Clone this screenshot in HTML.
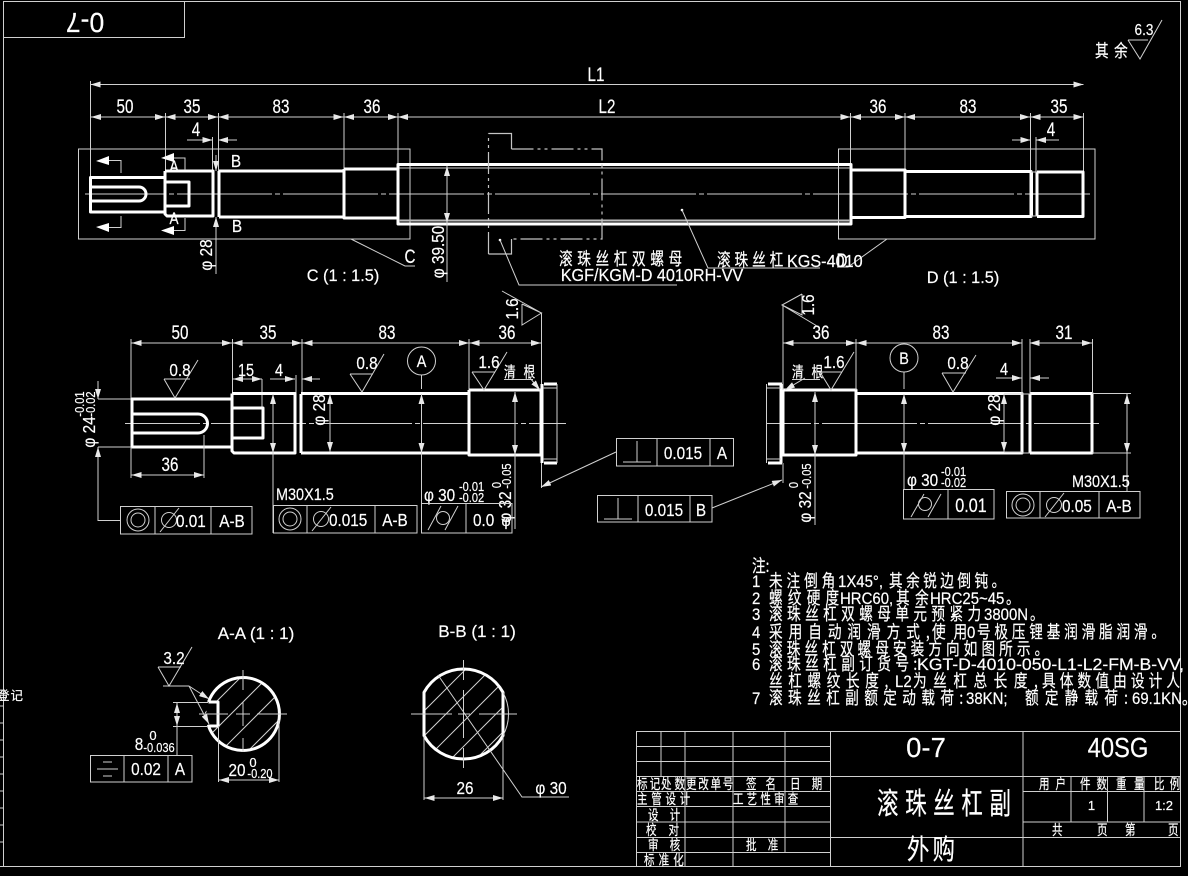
<!DOCTYPE html>
<html><head><meta charset="utf-8"><style>
html,body{margin:0;padding:0;background:#000}
svg{display:block}
text{fill:#fff;stroke:#fff;stroke-width:.2;font-family:"Liberation Sans","Noto Sans CJK SC",sans-serif;font-size:19px}
.m{text-anchor:middle}
.s{font-size:13px}
.n{font-size:17.5px;font-family:"Noto Sans CJK SC","Liberation Sans",sans-serif}
.k{font-size:14px;font-family:"Noto Sans CJK SC",sans-serif}
.l{fill:none;stroke:#d0d0d0;stroke-width:1}
.d{fill:none;stroke:#d0d0d0;stroke-width:1;marker-start:url(#a);marker-end:url(#a)}
.e{fill:none;stroke:#d0d0d0;stroke-width:1;marker-end:url(#a)}
.b{fill:none;stroke:#fff;stroke-width:3;stroke-linejoin:round}
.c{fill:none;stroke:#d0d0d0;stroke-width:1;stroke-dasharray:95 3 5 3}
.nut{fill:none;stroke:#c4c4c4;stroke-width:1.2;stroke-dasharray:22 4 3 4 3 4}
</style></head><body>
<svg width="1188" height="876" viewBox="0 0 1188 876" xmlns="http://www.w3.org/2000/svg">
<defs>
<marker id="a" markerUnits="userSpaceOnUse" markerWidth="10" markerHeight="6" refX="10" refY="3" orient="auto-start-reverse"><path d="M0 0L10 3L0 6Z" fill="#e8e8e8"/></marker>
<clipPath id="ca"><path clip-rule="evenodd" d="M206.5 714A36.5 36.5 0 1 1 279.5 714A36.5 36.5 0 1 1 206.5 714ZM205 702H218V726H205Z"/></clipPath>
<clipPath id="cb"><path d="M424 692.4A45 45 0 0 1 503 692.4V735.6A45 45 0 0 1 424 735.6Z"/></clipPath>
</defs>
<rect width="1188" height="876" fill="#000"/>

<!-- frame -->
<path class="l" d="M3 1.5H1180.500M3.5 1V867M0 866.5H1180M1180.500 1V867M637 731.5H1180"/>
<path class="l" d="M3 37.5H184.5V1"/>
<path class="l" d="M0 706H3M0 723H3M0 740H3M0 757H3M0 774H3M0 791H3M0 808H3M0 825H3M0 842H3"/>
<text class="k" x="-3" y="700" textLength="26" lengthAdjust="spacing" style="font-size:12.5px">登记</text>
<text class="m" style="font-size:28px" transform="translate(85 13) rotate(180) scale(.95 1)">0-7</text>

<!-- top right roughness -->
<path class="l" d="M1128 40H1148M1128 40L1140 59L1162 20"/>
<text class="m" style="font-size:16px" transform="translate(1144 35) scale(.85 1)">6.3</text>
<text class="n" transform="translate(1095 57) scale(.78 1)" textLength="42" lengthAdjust="spacing">其余</text>

<!-- top view dimensions -->
<path class="e" d="M130 84.5H90.5"/><path class="e" d="M1040 84.5H1083.5"/>
<path class="l" d="M130 84.5H1040"/>
<path class="l" d="M90.5 81V178M165.5 113V172M218.5 113V172M344 113V170M398 113V165M850.5 113V165M905 113V170M1030.5 113V172M1083.5 113V172M212.5 137V172M1036 137V172"/>
<text class="m" transform="translate(596 81) scale(.8 1)">L1</text>
<path class="d" d="M91 117H165"/><path class="d" d="M165.5 117H218"/><path class="d" d="M218.5 117H343.5"/><path class="d" d="M344 117H398"/><path class="d" d="M398 117H850.5"/><path class="d" d="M851 117H905"/><path class="d" d="M905 117H1030"/><path class="d" d="M1030.5 117H1083.5"/>
<text class="m" transform="translate(125 113) scale(.8 1)">50</text>
<text class="m" transform="translate(192 113) scale(.8 1)">35</text>
<text class="m" transform="translate(281 113) scale(.8 1)">83</text>
<text class="m" transform="translate(372 113) scale(.8 1)">36</text>
<text class="m" transform="translate(607 113) scale(.8 1)">L2</text>
<text class="m" transform="translate(878 113) scale(.8 1)">36</text>
<text class="m" transform="translate(968 113) scale(.8 1)">83</text>
<text class="m" transform="translate(1059 113) scale(.8 1)">35</text>
<path class="e" d="M187 140H212.5"/><path class="e" d="M237 140H218"/><path class="e" d="M1012 140H1030.5"/><path class="e" d="M1059 140H1036"/>
<text class="m" transform="translate(196 136) scale(.8 1)">4</text>
<text class="m" transform="translate(1051 136) scale(.8 1)">4</text>

<!-- detail boxes -->
<path class="l" d="M78.5 149H410V239H78.5Z"/>
<path class="l" d="M838.5 149H1095V239H838.5Z"/>
<path class="l" d="M351 239L405 266H415"/>
<path class="l" d="M887 239L848 267H837"/>
<text class="m" transform="translate(410 263) scale(.8 1)">C</text>
<text class="m" transform="translate(842 267) scale(.8 1)">D</text>
<text class="m" style="font-size:17px" transform="translate(343 281) scale(.96 1)">C (1 : 1.5)</text>
<text class="m" style="font-size:17px" transform="translate(963 283) scale(.96 1)">D (1 : 1.5)</text>

<!-- top shaft -->
<path class="c" stroke-dashoffset="14" d="M85 194H1090"/>
<path class="b" d="M90.5 177.5H165V212H90.5Z"/>
<path class="b" d="M91 187H139A7 7 0 0 1 139 201H91"/>
<path class="b" d="M165 171H213V216H167L165 214V171"/>
<path class="b" d="M165 182H189V206H165"/>
<path class="b" d="M213 171V216M219 171V217M219 171H344V217H219"/>
<path class="b" d="M344 169H398V218H344V169"/>
<path class="b" d="M398 164.500H851V224H398Z"/>
<path class="l" d="M399 168H850"/><path d="M399 220.500H850" fill="none" stroke="#bbb" stroke-width="2"/>
<path class="b" d="M851 170H905V217.500H851"/>
<path class="b" d="M905 171.500H1031V216.500H905"/>
<path class="b" d="M1031.500 172V216.500M1037 172V216.500M1037 172H1083V216.500H1037"/>
<path class="l" d="M1031 172H1037M1031 216H1037"/>

<!-- nut -->
<path class="nut" d="M511.500 149H602V239H511.500"/>
<path class="nut" d="M488.500 254V133.500"/>
<path d="M488.500 133.500H511.500V149M511.500 239V254H488.500" fill="none" stroke="#c4c4c4" stroke-width="1.200"/>
<circle cx="500" cy="240" r="1.300" fill="#fff"/><circle cx="682" cy="210" r="1.300" fill="#fff"/>
<path class="l" d="M500 240L519 285H677M682 210L708 268H820"/>
<text class="n" transform="translate(559 265) scale(.78 1)" textLength="158" lengthAdjust="spacing">滚珠丝杠双螺母</text>
<text class="m" style="font-size:18px" transform="translate(652 281) scale(.9 1)">KGF/KGM-D 4010RH-VV</text>
<text class="n" transform="translate(717 266) scale(.78 1)" textLength="85" lengthAdjust="spacing">滚珠丝杠</text>
<text transform="translate(787 267) scale(.9 1)" style="font-size:18px">KGS-4010</text>

<!-- section arrows top -->
<path class="l" d="M108 160.500H121V173M121 216V227.500H108M170 158H185V170M185 218V230.500H170"/>
<path d="M96 161L109 156V165ZM96 227L109 223V232ZM161 158L174 153V162ZM161 230.500L174 226V235Z" fill="#fff"/>
<text class="m" transform="translate(174 172) scale(.8 1)" style="font-size:17px">A</text>
<text class="m" transform="translate(174 224) scale(.8 1)" style="font-size:17px">A</text>
<text class="m" transform="translate(236 167) scale(.85 1)" style="font-size:18px">B</text>
<text class="m" transform="translate(237 232) scale(.85 1)" style="font-size:18px">B</text>
<path class="e" d="M216 155V171"/><path class="e" d="M216 274V217"/>
<text class="m" transform="translate(212 255) rotate(-90) scale(.85 1)" style="font-size:18px">φ 28</text>
<path class="d" d="M447 166V223"/><path class="l" d="M447 223V282"/>
<text class="m" transform="translate(444 252) rotate(-90) scale(.85 1)" style="font-size:18px">φ 39.50</text>

<!-- left lower view -->
<path class="l" d="M131 339V399M232.500 339V394M302 339V393M469 339V390M541.500 313V390M541.500 463V488"/>
<path class="d" d="M131.500 343H232"/><path class="d" d="M232.500 343H302"/><path class="d" d="M302.500 343H469"/><path class="d" d="M469.500 343H541"/>
<text class="m" transform="translate(180 339) scale(.8 1)">50</text>
<text class="m" transform="translate(268 339) scale(.8 1)">35</text>
<text class="m" transform="translate(387 339) scale(.8 1)">83</text>
<text class="m" transform="translate(507 339) scale(.8 1)">36</text>
<path class="d" d="M233 379H262"/><path class="l" d="M262 379V408M296 375V394M302 375V393"/>
<text class="m" transform="translate(246 376) scale(.8 1)" style="font-size:18px">15</text>
<path class="e" d="M270 379H295"/><path class="e" d="M320 379H302"/>
<text class="m" transform="translate(279 376) scale(.8 1)" style="font-size:18px">4</text>

<path class="c" stroke-dashoffset="20" d="M125 423.500H566"/>
<path class="b" d="M232 399H132V447H232"/>
<path class="b" d="M133 414H198A9 9 0 0 1 198 433H133"/>
<path class="b" d="M232 393.500H295V453H234L232 451V393.500"/>
<path class="b" d="M232 408H263V438H232"/>
<path class="b" d="M295 394V453M301 394V453M301 393.500H469V453H301"/>
<path class="b" d="M469 390H541V455H469V390"/>
<path class="b" d="M544 384H557M544 463H557M542 384V463"/>
<path class="l" d="M557 384V463M543 388H557M543 459H557"/>

<!-- rough left -->
<path class="l" d="M164 379H190M164 379L175 398L198 360"/>
<text class="m" transform="translate(180 376) scale(.85 1)" style="font-size:18px">0.8</text>
<path class="l" d="M350 374H373M350 374L362 392L384 354"/>
<text class="m" transform="translate(367 369) scale(.85 1)" style="font-size:18px">0.8</text>
<path class="l" d="M472 372H495M472 372L484 390L507 352"/>
<text class="m" transform="translate(489 368) scale(.85 1)" style="font-size:18px">1.6</text>
<text class="n" transform="translate(504 377) scale(.78 1)" textLength="40" lengthAdjust="spacing" style="font-size:15px">清根</text>
<path class="l" d="M504 379.500H533"/><path class="e" d="M530 378L540 390"/>
<path class="l" d="M522 304V325L541.500 313L522 304M502 291L541.500 313"/>
<text class="m" transform="translate(518 309) rotate(-90) scale(.85 1)" style="font-size:18px">1.6</text>

<!-- diam dims left -->
<path class="l" d="M98 399H131M98 447H131"/>
<path class="e" d="M98 381V399"/><path class="e" d="M98 465V447"/>
<path class="l" d="M98 465V520.500H120"/>
<text class="m" transform="translate(95 432) rotate(-90) scale(.85 1)" style="font-size:18px">φ 24</text>
<text class="m s" transform="translate(84 404) rotate(-90) scale(.85 1)">-0.01</text>
<text class="m s" transform="translate(95 404) rotate(-90) scale(.85 1)">-0.02</text>
<path class="l" d="M131 447V478M204 435V478"/>
<path class="d" d="M131.500 475H204"/>
<text class="m" transform="translate(170 471) scale(.8 1)">36</text>

<path class="d" d="M273 394V453"/><path class="l" d="M273 453V533"/>
<text transform="translate(276 500) scale(.85 1)" style="font-size:17px">M30X1.5</text>
<path class="d" d="M330 394V452"/>
<text class="m" transform="translate(325 410) rotate(-90) scale(.85 1)" style="font-size:18px">φ 28</text>
<path class="d" d="M421.500 394V453"/><path class="l" d="M421.500 453V503M421.500 375V389"/>
<circle class="l" cx="421.500" cy="361" r="14"/>
<text class="m" transform="translate(421.500 367) scale(.85 1)" style="font-size:17px">A</text>
<text transform="translate(424 501) scale(.85 1)" style="font-size:18px">φ 30</text>
<text class="s" transform="translate(459 491) scale(.85 1)">-0.01</text>
<text class="s" transform="translate(459 502) scale(.85 1)">-0.02</text>
<path class="d" d="M515 392V455"/><path class="l" d="M515 455V529"/>
<text class="m" transform="translate(511 507) rotate(-90) scale(.85 1)" style="font-size:18px">φ 32</text>
<text class="m s" transform="translate(501 485) rotate(-90) scale(.85 1)">0</text>
<text class="m s" transform="translate(511 476) rotate(-90) scale(.85 1)">-0.05</text>

<!-- FCF 1 -->
<path class="l" d="M120.500 506.500H252V534H120.500ZM155 506.500V534M211 506.500V534"/>
<circle class="l" cx="138" cy="520" r="11"/><circle class="l" cx="138" cy="520" r="7"/>
<circle class="l" cx="169" cy="520" r="7.500"/><path class="l" d="M160 532L179 508"/>
<text transform="translate(176 527) scale(.85 1)" style="font-size:18px">0.01</text>
<text class="m" transform="translate(232 527) scale(.85 1)" style="font-size:18px">A-B</text>
<!-- FCF 2 -->
<path class="l" d="M273.500 505.500H417V533H273.500ZM307 505.500V533M375 505.500V533"/>
<circle class="l" cx="290" cy="519" r="11"/><circle class="l" cx="290" cy="519" r="7"/>
<circle class="l" cx="321" cy="519" r="7.500"/><path class="l" d="M312 531L331 507"/>
<text transform="translate(329 526) scale(.85 1)" style="font-size:18px">0.015</text>
<text class="m" transform="translate(395 526) scale(.85 1)" style="font-size:18px">A-B</text>
<!-- FCF 3 -->
<path class="l" d="M421.500 503.500H512V533H421.500ZM466 503.500V533"/>
<circle class="l" cx="443" cy="518" r="6.500"/><path class="l" d="M428 530L441 506M445 530L458 506"/>
<text transform="translate(473 526) scale(.85 1)" style="font-size:18px">0.0</text>
<text class="m s" transform="translate(506 526)" style="font-size:14px">φ</text>
<path class="l" d="M515 512V529"/>

<!-- perp FCFs -->
<path class="l" d="M616.500 438.500H733.500V466H616.500ZM657 438.500V466M710 438.500V466M637 441V462M623 462H651"/>
<text class="m" transform="translate(683 459) scale(.85 1)" style="font-size:18px">0.015</text>
<text class="m" transform="translate(722 459) scale(.85 1)" style="font-size:18px">A</text>
<path class="e" d="M616 452L541 487"/>
<path class="l" d="M597.500 495.500H712V522H597.500ZM638 495.500V522M690 495.500V522M618 498V519M604 519H632"/>
<text class="m" transform="translate(664 516) scale(.85 1)" style="font-size:18px">0.015</text>
<text class="m" transform="translate(701 516) scale(.85 1)" style="font-size:18px">B</text>
<path class="e" d="M712 508L782 480"/>

<!-- right lower view -->
<path class="c" stroke-dashoffset="50" d="M766 423.500H1099"/>
<path class="b" d="M783 390H856V455H783V390"/>
<path class="b" d="M768 384H782M768 463H782M781 384V463"/>
<path class="l" d="M766.500 384V463M767 388H781M767 459H781"/>
<path class="b" d="M856 393.500H1022V453H856M1022 394V453M1030 394V453M1030 393.500H1092V453H1030"/>
<path class="l" d="M1022 394H1030M1022 453H1030"/>
<path class="l" d="M783 305V390M783 463V483M856 339V390M1022 339V394M1030 339V394M1092.500 339V393M1092 393.500H1131M1092 453H1131M1004 452H1022M1004 394H1022"/>
<path class="d" d="M783.500 343H856"/><path class="d" d="M856.500 343H1022"/><path class="d" d="M1029.500 343H1092"/>
<text class="m" transform="translate(821 339) scale(.8 1)">36</text>
<text class="m" transform="translate(941 339) scale(.8 1)">83</text>
<text class="m" transform="translate(1064 339) scale(.8 1)">31</text>
<path class="l" d="M802 294V315L782 305L802 294M782 305L817 326"/>
<text class="m" transform="translate(814 305) rotate(-90) scale(.85 1)" style="font-size:18px">1.6</text>
<text class="n" transform="translate(792 377) scale(.78 1)" textLength="40" lengthAdjust="spacing" style="font-size:15px">清根</text>
<path class="l" d="M792 379.500H820"/><path class="e" d="M805 378L785 390"/>
<path class="l" d="M820 372H842M820 372L831 390L854 352"/>
<text class="m" transform="translate(834 368) scale(.85 1)" style="font-size:18px">1.6</text>
<path class="d" d="M815 392V455"/><path class="l" d="M815 455V525"/>
<text class="m" transform="translate(811 507) rotate(-90) scale(.85 1)" style="font-size:18px">φ 32</text>
<text class="m s" transform="translate(798 485) rotate(-90) scale(.85 1)">0</text>
<text class="m s" transform="translate(811 476) rotate(-90) scale(.85 1)">-0.05</text>
<circle class="l" cx="904" cy="358" r="14"/>
<text class="m" transform="translate(904 364) scale(.85 1)" style="font-size:17px">B</text>
<path class="l" d="M904 372V389M904 453V489"/>
<path class="d" d="M904 394V453"/>
<path class="l" d="M942 373H966M942 373L953 392L976 355"/>
<text class="m" transform="translate(958 369) scale(.85 1)" style="font-size:18px">0.8</text>
<path class="d" d="M1004 394V452"/>
<text class="m" transform="translate(1000 410) rotate(-90) scale(.85 1)" style="font-size:18px">φ 28</text>
<path class="e" d="M996 378H1022"/><path class="e" d="M1049 378H1030"/>
<text class="m" transform="translate(1004 375) scale(.8 1)" style="font-size:18px">4</text>
<path class="d" d="M1127 394V453"/><path class="l" d="M1127 453V491"/>
<text transform="translate(1072 487) scale(.85 1)" style="font-size:17px">M30X1.5</text>
<path class="l" d="M1006.500 491.500H1140V518H1006.500ZM1040 491.500V518M1099 491.500V518"/>
<circle class="l" cx="1023" cy="505" r="11"/><circle class="l" cx="1023" cy="505" r="7"/>
<circle class="l" cx="1054" cy="505" r="7.500"/><path class="l" d="M1045 517L1064 493"/>
<text transform="translate(1062 512) scale(.85 1)" style="font-size:18px">0.05</text>
<text class="m" transform="translate(1119 512) scale(.85 1)" style="font-size:18px">A-B</text>
<path class="l" d="M903.500 489.500H994V519H903.500ZM948 489.500V519"/>
<circle class="l" cx="925" cy="504" r="6.500"/><path class="l" d="M911 517L924 494M928 517L941 494"/>
<text class="m" transform="translate(971 512) scale(.85 1)" style="font-size:19px">0.01</text>
<text transform="translate(907 486) scale(.85 1)" style="font-size:18px">φ 30</text>
<text class="s" transform="translate(941 476) scale(.85 1)">-0.01</text>
<text class="s" transform="translate(941 487) scale(.85 1)">-0.02</text>

<!-- A-A -->
<text class="m" style="font-size:17px" transform="translate(256 639)">A-A (1 : 1)</text>
<g clip-path="url(#ca)"><path class="l" d="M258 660L138 780M285 660L165 780M312 660L192 780M339 660L219 780M366 660L246 780"/></g>
<path class="b" d="M208.500 702A36.500 36.500 0 1 1 208.500 726H218V702H208.500"/>
<path class="l" d="M243 670V690M243 702V726M243 738V752M199 714H228M236 714H250M257 714H287"/>
<path class="l" d="M173 702.500H208M173 726.500H208"/>
<path class="d" d="M177 703V726"/><path class="l" d="M177 726V755"/>
<path class="l" d="M158 667H181M158 667L169 686L192 647M163 686H189"/>
<path class="e" d="M189 686L209 699"/><path class="e" d="M189 686L209 724"/>
<text class="m" transform="translate(174 664) scale(.85 1)" style="font-size:18px">3.2</text>
<text class="m" transform="translate(139 750) scale(.85 1)" style="font-size:18px">8</text>
<text class="m s" transform="translate(153 740)">0</text>
<text class="m s" transform="translate(159 752) scale(.85 1)">-0.036</text>
<path class="l" d="M90.500 755.500H192V782H90.500ZM124 755.500V782M168 755.500V782M103 762H112M97 769H118M103 776H112"/>
<text class="m" transform="translate(146 775) scale(.85 1)" style="font-size:18px">0.02</text>
<text class="m" transform="translate(180 775) scale(.85 1)" style="font-size:18px">A</text>
<path class="l" d="M218.500 726V782M279 720V782"/>
<path class="d" d="M219 780H279"/>
<text class="m" transform="translate(237 776) scale(.85 1)" style="font-size:18px">20</text>
<text class="m s" transform="translate(253 767)">0</text>
<text class="m s" transform="translate(260 778) scale(.85 1)">-0.20</text>

<!-- B-B -->
<text class="m" style="font-size:17px" transform="translate(477 637)">B-B (1 : 1)</text>
<g clip-path="url(#cb)"><path class="l" d="M485 650L355 780M510 650L380 780M535 650L405 780M560 650L430 780M585 650L455 780"/></g>
<path class="b" d="M424 692.400A45 45 0 0 1 503 692.400V735.600A45 45 0 0 1 424 735.600Z"/>
<path class="l" d="M503 692.400A45 45 0 0 1 503 735.600"/>
<path class="l" d="M463.500 660V680M463.500 690V738M463.500 748V768M411 714H452M458 714H470M479 714H517"/>
<path class="l" d="M424 736V800M503 736V800"/>
<path class="d" d="M424.500 798H503"/>
<text class="m" transform="translate(465 794) scale(.85 1)" style="font-size:18px">26</text>
<path class="l" d="M438 675L522 797H569"/>
<text class="m" transform="translate(551 794) scale(.85 1)" style="font-size:18px">φ 30</text>

<!-- Notes -->
<text class="n" transform="translate(752 572) scale(.78 1)">注:</text>
<text transform="translate(752 587) scale(.88 1)" style="font-size:17px">1</text><text class="n" transform="translate(769 587) scale(.78 1)" textLength="85" lengthAdjust="spacing">未注倒角</text><text transform="translate(838 587) scale(.88 1)" style="font-size:17px">1X45°,</text><text class="n" transform="translate(889 587) scale(.78 1)" textLength="149" lengthAdjust="spacing">其余锐边倒钝。</text>
<text transform="translate(752 604) scale(.88 1)" style="font-size:17px">2</text><text class="n" transform="translate(769 604) scale(.78 1)" textLength="90" lengthAdjust="spacing">螺纹硬度</text><text transform="translate(840 604) scale(.88 1)" style="font-size:17px">HRC60,</text><text class="n" transform="translate(896 604) scale(.78 1)" textLength="42" lengthAdjust="spacing">其余</text><text transform="translate(930 604) scale(.88 1)" style="font-size:17px">HRC25~45</text><text class="n" transform="translate(1006 604) scale(.78 1)">。</text>
<text transform="translate(752 620) scale(.88 1)" style="font-size:17px">3</text><text class="n" transform="translate(769 620) scale(.78 1)" textLength="272" lengthAdjust="spacing">滚珠丝杠双螺母单元预紧力</text><text transform="translate(984 620) scale(.88 1)" style="font-size:17px">3800N</text><text class="n" transform="translate(1030 620) scale(.78 1)">。</text>
<text transform="translate(752 638) scale(.88 1)" style="font-size:17px">4</text><text class="n" transform="translate(769 638) scale(.78 1)" textLength="206" lengthAdjust="spacing">采用自动润滑方式,</text><text class="n" transform="translate(932 638) scale(.78 1)" textLength="45" lengthAdjust="spacing">使用</text><text transform="translate(967 638) scale(.88 1)" style="font-size:17px">0</text><text class="n" transform="translate(977 638) scale(.78 1)" textLength="241" lengthAdjust="spacing">号极压锂基润滑脂润滑。</text>
<text transform="translate(752 655) scale(.88 1)" style="font-size:17px">5</text><text class="n" transform="translate(769 655) scale(.78 1)" textLength="358" lengthAdjust="spacing">滚珠丝杠双螺母安装方向如图所示。</text>
<text transform="translate(752 670) scale(.88 1)" style="font-size:17px">6</text><text class="n" transform="translate(769 670) scale(.78 1)" textLength="190" lengthAdjust="spacing">滚珠丝杠副订货号:</text><text x="917" y="670" style="font-size:17px" textLength="267" lengthAdjust="spacingAndGlyphs">KGT-D-4010-050-L1-L2-FM-B-VV,</text>
<text class="n" transform="translate(769 687) scale(.78 1)" textLength="153" lengthAdjust="spacing">丝杠螺纹长度,</text><text transform="translate(895 687) scale(.88 1)" style="font-size:17px">L2</text><text class="n" transform="translate(913 687) scale(.78 1)" textLength="160" lengthAdjust="spacing">为丝杠总长度,</text><text class="n" transform="translate(1042 687) scale(.78 1)" textLength="177" lengthAdjust="spacing">具体数值由设计人</text>
<text transform="translate(752 704) scale(.88 1)" style="font-size:17px">7</text><text class="n" transform="translate(769 704) scale(.78 1)" textLength="249" lengthAdjust="spacing">滚珠丝杠副额定动载荷:</text><text transform="translate(966 704) scale(.88 1)" style="font-size:17px">38KN;</text><text class="n" transform="translate(1025 704) scale(.78 1)" textLength="132" lengthAdjust="spacing">额定静载荷:</text><text transform="translate(1132 704) scale(.88 1)" style="font-size:17px">69.1KN。</text>

<!-- title block -->
<path class="l" d="M636.500 731V867M636 746.500H830M636 761.500H830M636 776.500H1180M636 791.500H830M636 806.500H830M636 822H830M636 837.500H1180M636 852.500H830M661 731V776M685 731V867M733 731V867M785 731V852M830.500 731V867M1023 731V867M1023 791.500H1180M1023 822H1180M1071 776V822M1107.500 776V822M1144 776V822"/>
<text class="k" transform="translate(637 789) scale(.75 1)" textLength="31" lengthAdjust="spacing">标记</text>
<text class="k" transform="translate(661 789) scale(.75 1)" textLength="32" lengthAdjust="spacing">处数</text>
<text class="k" transform="translate(686 789) scale(.75 1)" textLength="63" lengthAdjust="spacing">更改单号</text>
<text class="k" transform="translate(746 789) scale(.75 1)" textLength="40" lengthAdjust="spacing">签名</text>
<text class="k" transform="translate(790 789) scale(.75 1)" textLength="43" lengthAdjust="spacing">日期</text>
<text class="k" transform="translate(637 804) scale(.75 1)" textLength="71" lengthAdjust="spacing">主管设计</text>
<text class="k" transform="translate(733 804) scale(.75 1)" textLength="87" lengthAdjust="spacing">工艺性审查</text>
<text class="k" transform="translate(648 820) scale(.75 1)" textLength="43" lengthAdjust="spacing">设计</text>
<text class="k" transform="translate(646 835) scale(.75 1)" textLength="44" lengthAdjust="spacing">校对</text>
<text class="k" transform="translate(648 850) scale(.75 1)" textLength="43" lengthAdjust="spacing">审核</text>
<text class="k" transform="translate(746 850) scale(.75 1)" textLength="43" lengthAdjust="spacing">批准</text>
<text class="k" transform="translate(644 865) scale(.75 1)" textLength="53" lengthAdjust="spacing">标准化</text>
<text class="m" style="font-size:28px" transform="translate(926 757) scale(.98 1)">0-7</text>
<text class="m" style="font-size:28px" transform="translate(1118 757) scale(.85 1)">40SG</text>
<text class="n" transform="translate(877 814) scale(.72 1)" style="font-size:30px" textLength="186" lengthAdjust="spacing">滚珠丝杠副</text>
<text class="n" transform="translate(907 859) scale(.8 1)" style="font-size:28px" textLength="60" lengthAdjust="spacing">外购</text>
<text class="k" transform="translate(1039 789) scale(.75 1)" textLength="36" lengthAdjust="spacing">用户</text>
<text class="k" transform="translate(1080 789) scale(.75 1)" textLength="36" lengthAdjust="spacing">件数</text>
<text class="k" transform="translate(1116 789) scale(.75 1)" textLength="38" lengthAdjust="spacing">重量</text>
<text class="k" transform="translate(1154 789) scale(.75 1)" textLength="35" lengthAdjust="spacing">比例</text>
<text class="m" style="font-size:13px" x="1091.500" y="810">1</text>
<text class="m" style="font-size:13px" x="1164" y="810">1:2</text>
<text class="k" transform="translate(1052 835) scale(.75 1)">共</text><text class="k" transform="translate(1097 835) scale(.75 1)">页</text><text class="k" transform="translate(1125 835) scale(.75 1)">第</text><text class="k" transform="translate(1168 835) scale(.75 1)">页</text>
</svg>
</body></html>
